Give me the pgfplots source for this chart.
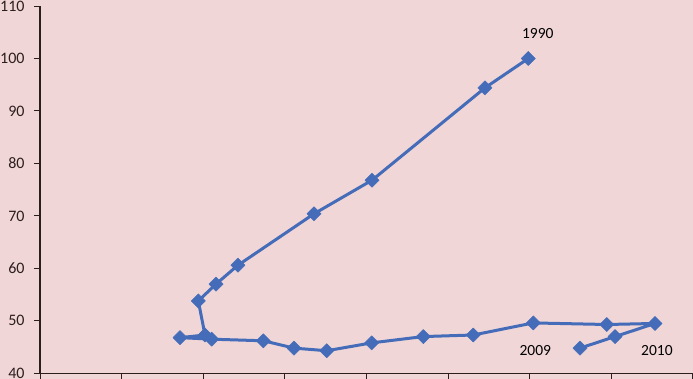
\documentclass[border=0pt]{standalone}
\usepackage{pgfplots}
\pgfplotsset{compat=1.18}
\usepackage{fontspec}
\setmainfont{Carlito}
\definecolor{bg}{RGB}{241,214,215}
\definecolor{ser}{RGB}{68,108,184}
\definecolor{axc}{RGB}{45,30,30}
\begin{document}
\begin{tikzpicture}
\fill[bg] (-40bp,-5.7bp) rectangle (653bp,373.3bp);
\begin{axis}[
  at={(0,0)}, anchor=south west,
  width=652.8bp, height=367.3bp, scale only axis,
  xmin=0, xmax=8, ymin=40, ymax=110,
  axis x line*=bottom, axis y line*=left,
  xtick=\empty,
  ytick={40,50,...,110},
  tick align=outside, major tick length=6bp,
  tick style={axc, line width=0.9bp},
  axis line style={axc, line width=1.1bp},
  yticklabel style={font=\fontsize{16bp}{18bp}\selectfont, text=axc, xshift=-6bp},
  /pgf/number format/assume math mode=true,
  clip=false,
]
\foreach \t in {0,1,...,8} {
  \edef\temp{\noexpand\draw[axc, line width=0.9bp] (axis cs:\t,40) -- ++(0,-6bp);}
  \temp
}
\addplot[ser, line width=3bp, line join=round, mark=square*, mark size=5bp, mark options={rotate=45, solid, line width=0.5bp}] coordinates {
(5.984,100.0) (5.453,94.4) (4.069,76.8) (3.358,70.4) (2.426,60.6) (2.157,57.0) (1.940,53.8)
(2.022,47.3) (1.716,46.8) (2.104,46.5) (2.737,46.2) (3.113,44.8) (3.514,44.3) (4.065,45.8)
(4.697,47.0) (5.310,47.3) (6.045,49.6) (6.945,49.3) (7.537,49.5) (7.047,47.0) (6.618,44.8)
};
\node[font=\fontsize{15.5bp}{18bp}\selectfont, text=black] at (axis cs:6.10,104.85) {1990};
\node[font=\fontsize{15.5bp}{18bp}\selectfont, text=black] at (axis cs:6.07,44.4) {2009};
\node[font=\fontsize{15.5bp}{18bp}\selectfont, text=black] at (axis cs:7.56,44.4) {2010};
\end{axis}
\pgfresetboundingbox
\useasboundingbox (-40bp,-5.7bp) rectangle (653bp,373.3bp);
\end{tikzpicture}
\end{document}
